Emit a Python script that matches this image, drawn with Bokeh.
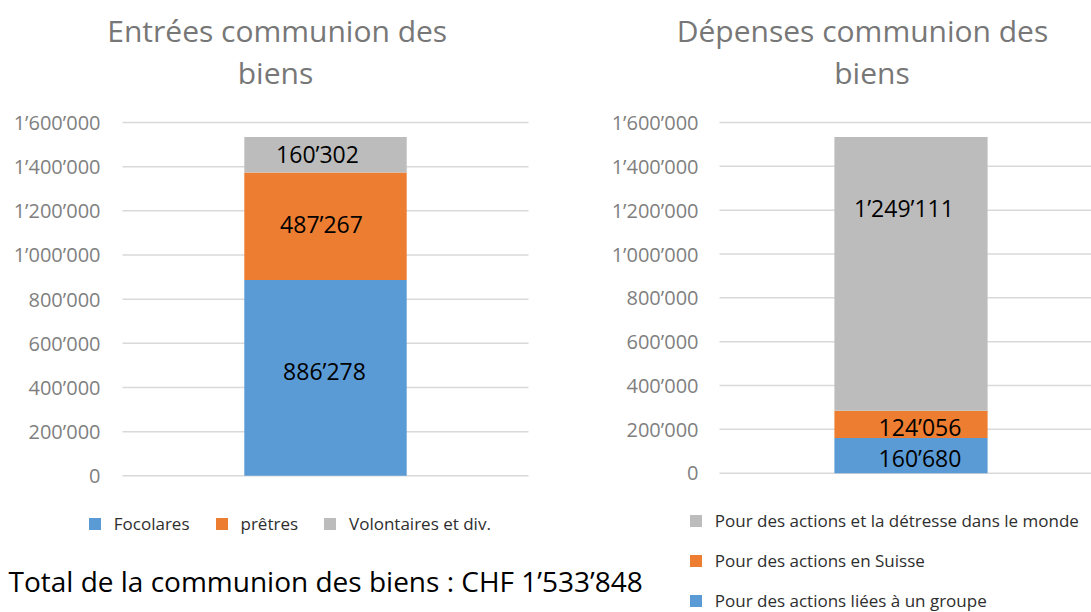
from bokeh.plotting import figure
from bokeh.models import Range1d, Label, Legend, LegendItem, ColumnDataSource
from bokeh.core.properties import value
from bokeh.embed import file_html
from bokeh.resources import INLINE
import numpy as np

FONT = "Open Sans"

# ---------------- data ----------------
in_series = ["Focolares", "prêtres", "Volontaires et div."]
in_values = [886278, 487267, 160302]
out_series = ["Pour des actions liées à un groupe", "Pour des actions en Suisse",
              "Pour des actions et la détresse dans le monde"]
out_values = [160680, 124056, 1249111]
y_ticks = [0, 200000, 400000, 600000, 800000, 1000000, 1200000, 1400000, 1600000]
title_in = ["Entrées communion des", "biens"]
title_out = ["Dépenses communion des", "biens"]
total_text = "Total de la communion des biens : CHF 1\u2019533\u2019848"

# ---------------- styles / layout (pixels) ----------------
W, H = 1091, 612
colors = ["#5b9bd5", "#ed7d31", "#bcbcbc"]
TITLE_COLOR = "#777777"
TICK_COLOR = "#7f7f7f"
GRID_COLOR = "#d9d9d9"
LEGEND_COLOR = "#2e2e2e"

# chart areas in page pixels: (left, right, top, bottom of value axis 0..1.6M)
AREA_IN = dict(x0=122, x1=528, top=122, bottom=475.3)
AREA_OUT = dict(x0=719, x1=1102, top=122, bottom=472.7)
Y_MAX = 1600000

# label nudges (screen px)
in_dx, in_dy = [-1, -4, -8], [-7, -2, -1]
out_dx, out_dy = [9, 9, -7], [2, 3, -66]


def fmt(v):
    return f"{int(v):,}".replace(",", "\u2019")


def span(v0, v1, px0, px1, total):
    k = (v1 - v0) / (px1 - px0)
    return Range1d(v0 - px0 * k, v0 + (total - px0) * k)


def xr(a):
    return span(0, 1, a["x0"], a["x1"], W)


def yr(a):
    return span(0, Y_MAX, H - a["bottom"], H - a["top"], H)


p = figure(width=W, height=H, output_backend="svg", toolbar_location=None,
           x_axis_location=None, y_axis_location=None, min_border=0,
           x_range=xr(AREA_IN), y_range=yr(AREA_IN))
p.extra_x_ranges = {"out": xr(AREA_OUT)}
p.extra_y_ranges = {"out": yr(AREA_OUT)}
p.grid.visible = False
p.outline_line_color = None
p.min_border_left = p.min_border_right = p.min_border_top = p.min_border_bottom = 0


def chart(series, values, dx, dy, rname, standoff):
    kw = {} if rname is None else dict(x_range_name=rname, y_range_name=rname)
    # gridlines and tick labels from the tick list
    p.segment(x0=[0] * len(y_ticks), x1=[1] * len(y_ticks), y0=y_ticks, y1=y_ticks,
              line_color=GRID_COLOR, line_width=1.5, **kw)
    p.text(x=[0] * len(y_ticks), y=y_ticks, text=[fmt(t) for t in y_ticks],
           x_offset=-standoff, text_align="right", text_baseline="middle",
           text_font=value(FONT), text_font_size=value("20px"), text_color=TICK_COLOR, **kw)
    # stacked bar
    data = {"x": [0.5]}
    for s, v in zip(series, values):
        data[s] = [v]
    rs = p.vbar_stack(series, x="x", width=0.4, source=ColumnDataSource(data),
                      fill_color=colors, line_color=None, **kw)
    vals = np.array(values, dtype=float)
    mids = np.cumsum(vals) - vals / 2
    lsrc = ColumnDataSource(dict(x=[0.5] * len(values), y=mids,
                                 t=[fmt(v) for v in values], dx=dx, dy=dy))
    p.text(x="x", y="y", text="t", x_offset="dx", y_offset="dy", source=lsrc,
           text_font=value(FONT), text_font_size=value("23px"),
           text_align="center", text_baseline="middle", text_color="black", **kw)
    return rs


def title(lines, xs, ys):
    for t, x, y in zip(lines, xs, ys):
        p.add_layout(Label(x=x, y=H - y, x_units="screen", y_units="screen", text=t,
                           text_font=FONT, text_font_size="30px", text_color=TITLE_COLOR,
                           text_align="center", text_baseline="middle"))


def legend(items, orientation, x, top, height, spacing, standoff):
    p.add_layout(Legend(items=items, orientation=orientation,
                        location=(x, H - top - height),
                        glyph_width=15, glyph_height=15, label_height=23,
                        label_standoff=standoff, spacing=spacing, padding=0, margin=0,
                        label_text_font=FONT, label_text_font_size="17px",
                        label_text_color=LEGEND_COLOR,
                        border_line_alpha=0, background_fill_alpha=0))


rs_in = chart(in_series, in_values, in_dx, in_dy, None, 22)
rs_out = chart(out_series, out_values, out_dx, out_dy, "out", 21)

title(title_in, [276.7, 275], [30, 72])
title(title_out, [862, 871.5], [30, 72])

legend([LegendItem(label=s, renderers=[r]) for s, r in zip(in_series, rs_in)],
       "horizontal", 86.8, 512, 23, 24, 12)
legend([LegendItem(label=s, renderers=[r]) for s, r in reversed(list(zip(out_series, rs_out)))],
       "vertical", 687.8, 509, 3 * 23 + 2 * 17, 17, 12)

p.add_layout(Label(x=8, y=H - 580, x_units="screen", y_units="screen", text=total_text,
                   text_font=FONT, text_font_size="28px", text_color="black",
                   text_align="left", text_baseline="middle"))

open("out.html", "w").write(file_html(p, INLINE))
